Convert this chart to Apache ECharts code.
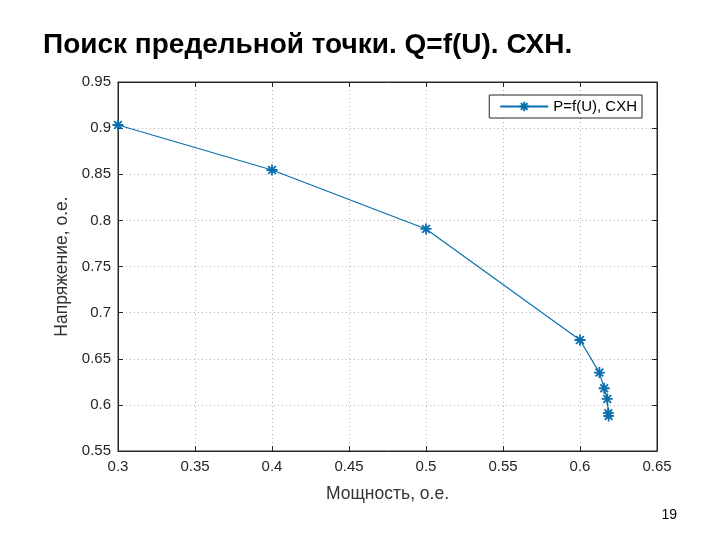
<!DOCTYPE html>
<html><head><meta charset="utf-8">
<script src="https://cdn.jsdelivr.net/npm/echarts@6/dist/echarts.min.js"></script>
<style>html,body{margin:0;padding:0;background:#fff}#c{width:720px;height:540px}</style>
</head><body><div id="c"></div>
<script>
var titleText = 'Поиск предельной точки. Q=f(U). СХН.';
var seriesName = 'P=f(U), CXH';
var xAxisName = 'Мощность, о.е.';
var yAxisName = 'Напряжение, о.е.';
var pageNumber = '19';
var powerValues = [0.3, 0.4, 0.5, 0.6, 0.6126, 0.6157, 0.6177, 0.6184, 0.6186];
var voltageValues = [0.9034, 0.8546, 0.7907, 0.6703, 0.635, 0.618, 0.6064, 0.591, 0.588];

var color = '#0a6fae';
var asterisk = 'path://M0,-10L0,10M-10,0L10,0M-7,-7L7,7M-7,7L7,-7';
var data = powerValues.map(function(p, i){ return [p, voltageValues[i]]; });
var axisColor = '#262626';
var font = 'Liberation Sans, Arial';
var labelStyle = {color: axisColor, fontFamily: font, fontSize: 15};
var chart = echarts.init(document.getElementById('c'), null, {renderer: 'canvas'});
chart.setOption({
  backgroundColor: '#fff',
  animation: false,
  title: [{
    text: titleText, left: 38, top: 26,
    textStyle: {fontFamily: font, fontWeight: 'bold', fontSize: 28, color: '#000'}
  }, {
    text: pageNumber, right: 38, top: 503,
    textStyle: {fontFamily: font, fontWeight: 'normal', fontSize: 14, color: '#000'}
  }],
  grid: {left: 118, right: 63, top: 82, bottom: 89, show: true, borderColor: axisColor, borderWidth: 1, backgroundColor: '#fff'},
  legend: {
    right: 78, top: 95, orient: 'horizontal',
    backgroundColor: '#fff', borderColor: axisColor, borderWidth: 1, borderRadius: 0,
    padding: [4, 5, 4, 10], itemWidth: 48, itemHeight: 12, itemGap: 6,
    textStyle: {color: '#000', fontFamily: font, fontSize: 15},
    data: [{name: seriesName}]
  },
  xAxis: [{
    type: 'value', min: 0.3, max: 0.65, interval: 0.05,
    name: xAxisName, nameLocation: 'middle', nameGap: 34,
    nameTextStyle: {color: '#333', fontFamily: font, fontSize: 17.5},
    axisLine: {show: true, lineStyle: {color: axisColor}},
    axisTick: {show: true, inside: true, length: 5, lineStyle: {color: axisColor}},
    axisLabel: Object.assign({margin: 8, formatter: function(v){ return String(+v.toFixed(2)); }}, labelStyle),
    splitLine: {show: true, lineStyle: {color: '#b4b4b4', type: [1, 3], width: 1}}
  }, {
    type: 'value', position: 'top', min: 0.3, max: 0.65, interval: 0.05,
    axisLine: {show: true, lineStyle: {color: axisColor}},
    axisTick: {show: true, inside: true, length: 5, lineStyle: {color: axisColor}},
    axisLabel: {show: false}, splitLine: {show: false}
  }],
  yAxis: [{
    type: 'value', min: 0.55, max: 0.95, interval: 0.05,
    name: yAxisName, nameLocation: 'middle', nameGap: 44, nameRotate: 90,
    nameTextStyle: {color: '#333', fontFamily: font, fontSize: 17.5},
    axisLine: {show: true, lineStyle: {color: axisColor}},
    axisTick: {show: true, inside: true, length: 5, lineStyle: {color: axisColor}},
    axisLabel: Object.assign({margin: 7, formatter: function(v){ return String(+v.toFixed(2)); }}, labelStyle),
    splitLine: {show: true, lineStyle: {color: '#b4b4b4', type: [1, 3], width: 1}}
  }, {
    type: 'value', position: 'right', min: 0.55, max: 0.95, interval: 0.05,
    axisLine: {show: true, lineStyle: {color: axisColor}},
    axisTick: {show: true, inside: true, length: 5, lineStyle: {color: axisColor}},
    axisLabel: {show: false}, splitLine: {show: false}
  }],
  series: [{
    name: seriesName, type: 'line', data: data,
    symbol: asterisk, symbolSize: 11, showSymbol: true,
    lineStyle: {color: color, width: 1.2},
    itemStyle: {color: color, borderColor: color, borderWidth: 1.8},
    emphasis: {disabled: true}
  }]
});
</script></body></html>
